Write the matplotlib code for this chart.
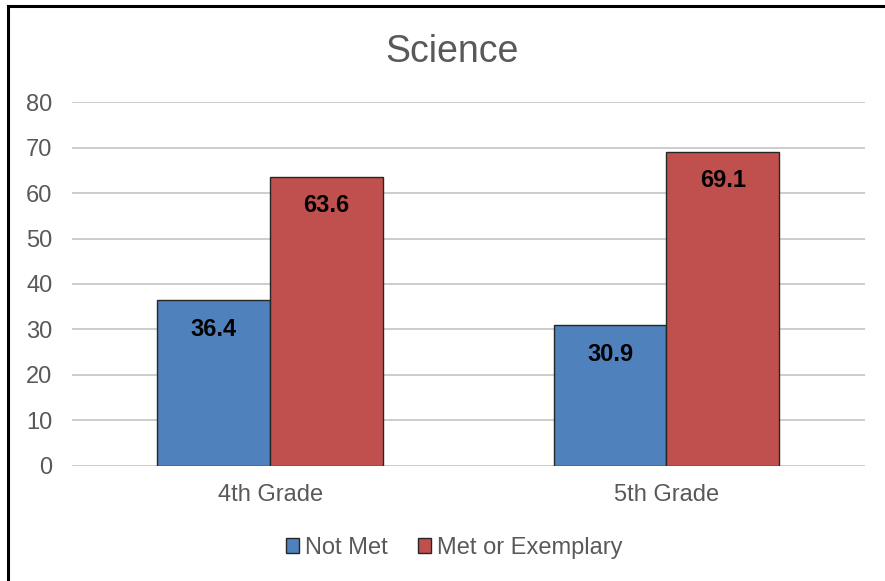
import numpy as np
import matplotlib.pyplot as plt
from matplotlib.lines import Line2D

plt.rcParams['font.family'] = ['Liberation Sans', 'DejaVu Sans']

categories = ['4th Grade', '5th Grade']
not_met = [36.4, 30.9]
met = [63.6, 69.1]
series_names = ['Not Met', 'Met or Exemplary']

fig = plt.figure(figsize=(8.85, 5.81), dpi=100)
ax = fig.add_axes([0.0814, 0.198, 0.8956, 0.6264])

x = np.arange(len(categories))
w = 0.285
b1 = ax.bar(x - w / 2, not_met, w, color='#4F81BD', edgecolor='#262626', linewidth=1.0,
            label=series_names[0], zorder=3)
b2 = ax.bar(x + w / 2, met, w, color='#C0504D', edgecolor='#262626', linewidth=1.0,
            label=series_names[1], zorder=3)

for bars in (b1, b2):
    for r in bars:
        ax.annotate(f'{r.get_height():.1f}', (r.get_x() + r.get_width() / 2, r.get_height()),
                    xytext=(0, -21), textcoords='offset points', ha='center', va='center',
                    fontsize=17, fontweight='bold', color='black', zorder=4)

ax.set_xlim(-0.5, 1.5)
ax.set_ylim(0, 80)
ax.set_yticks(np.arange(0, 81, 10))
ax.set_xticks(x)
ax.set_xticklabels(categories)
ax.tick_params(axis='both', length=0, labelsize=17, labelcolor='#595959')
ax.tick_params(axis='y', pad=14)
ax.tick_params(axis='x', pad=13)
ax.grid(axis='y', color='#C8C8C8', linewidth=1.3, zorder=0)
for s in ax.spines.values():
    s.set_visible(False)

fig.text(0.511, 0.91, 'Science', ha='center', va='center', fontsize=27, color='#595959')

ax.legend(loc='center', bbox_to_anchor=(0.5135, 0.057), bbox_transform=fig.transFigure,
          ncol=2, frameon=False, fontsize=17, labelcolor='#595959',
          handlelength=0.55, handleheight=0.55, handletextpad=0.25, columnspacing=1.3)

# outer frame (left and top edges visible)
fig.add_artist(Line2D([0.0095, 0.0095], [0, 0.99], transform=fig.transFigure, color='black', linewidth=2.2))
fig.add_artist(Line2D([0.0085, 1.0], [0.99, 0.99], transform=fig.transFigure, color='black', linewidth=2.2))

fig.savefig('out.png', dpi=100)
